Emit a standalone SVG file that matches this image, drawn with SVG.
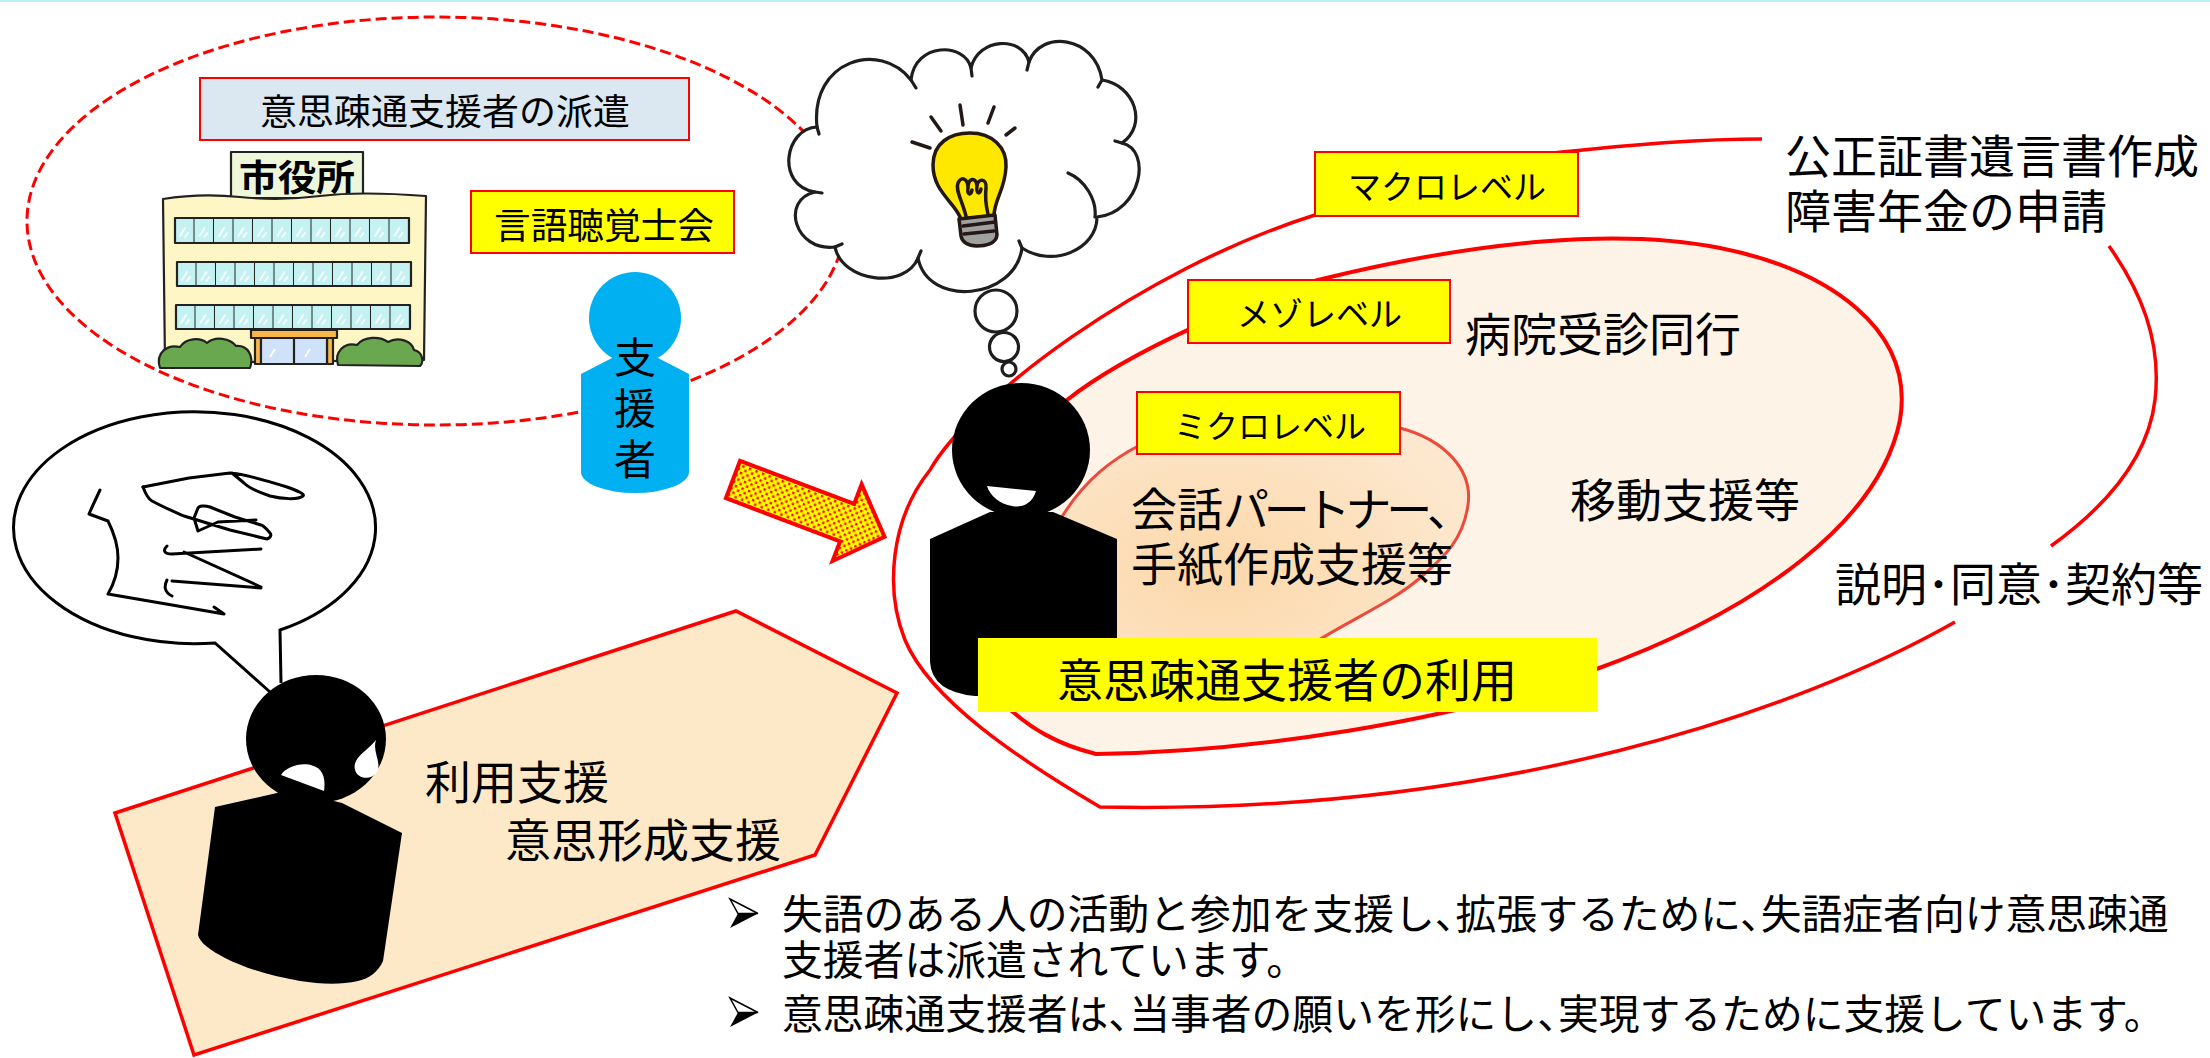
<svg xmlns="http://www.w3.org/2000/svg" width="2210" height="1058" viewBox="0 0 2210 1058">
  <defs>
    <style>
      text { font-family: "Noto Sans CJK JP", "Noto Sans", sans-serif; fill: #000; }
      .tight { font-family: "Liberation Sans", "Noto Sans CJK JP", sans-serif; }
      .t46 { font-size: 46px; }
      .notes { font-size: 40.8px; }
      .lvl { font-size: 32px; }
      .ybox { fill: #ffff00; stroke: #ff0000; stroke-width: 2; }
      .ink { stroke: #1e1e1e; stroke-width: 3.2; stroke-linecap: round; stroke-linejoin: round; }
      .bulbink { stroke: #231815; stroke-width: 3.5; stroke-linecap: round; stroke-linejoin: round; }
      .sketch { stroke: #222; stroke-width: 2.2; stroke-linejoin: round; }
      .redline { fill: none; stroke: #ff0000; stroke-width: 3.5; }
    </style>
    <pattern id="dots" width="7" height="7" patternUnits="userSpaceOnUse">
      <rect width="7" height="7" fill="#ffff00"/>
      <rect x="0.5" y="0.5" width="2.4" height="2.4" fill="#ff0000"/>
      <rect x="4" y="4" width="2.4" height="2.4" fill="#ff0000"/>
    </pattern>
    <pattern id="pane" width="19.5" height="26" patternUnits="userSpaceOnUse">
      <rect width="19.5" height="26" fill="#c4f1f1"/>
      <path d="M19.5,0V26" stroke="#222" stroke-width="2"/>
      <path d="M5,18L10,10 M10,19L13,15" stroke="#fff" stroke-width="1.8" stroke-linecap="round"/>
    </pattern>
    <radialGradient id="microFill" cx="0.4" cy="0.55" r="0.65">
      <stop offset="0" stop-color="#fcd8aa"/>
      <stop offset="1" stop-color="#fde8cf"/>
    </radialGradient>
  </defs>

  <rect width="2210" height="1058" fill="#ffffff"/>
  <rect x="0" y="0" width="2210" height="2" fill="#bdeefc"/>

  <!-- dispatch area (dashed) -->
  <g id="dispatch-area">
    <ellipse cx="436" cy="221" rx="409" ry="204" fill="none" stroke="#ff0000" stroke-width="3" stroke-dasharray="11 5"/>
  </g>

  <g id="dispatch-label">
    <rect x="200" y="78" width="489" height="62" fill="#dbe8f1" stroke="#ff0000" stroke-width="2"/>
    <text x="260" y="125" font-size="36" textLength="370" lengthAdjust="spacingAndGlyphs">意思疎通支援者の派遣</text>
  </g>

  <!-- city hall illustration -->
  <g id="city-hall">
    <rect x="231" y="152" width="132" height="46" fill="#eef7d9" class="sketch"/>
    <text x="239" y="191" font-size="36" font-weight="700" textLength="116" lengthAdjust="spacingAndGlyphs">市役所</text>
    <path d="M163,199 Q200,193 240,197 T320,196 T426,196 L424,360 L165,363 Z" fill="#fef6c5" class="sketch"/>
    <g transform="translate(175,218)"><rect width="234" height="25" fill="url(#pane)" class="sketch"/></g>
    <g transform="translate(177,262)"><rect width="234" height="24" fill="url(#pane)" class="sketch"/></g>
    <g transform="translate(176,305)"><rect width="234" height="24" fill="url(#pane)" class="sketch"/></g>
    <rect x="255" y="337" width="6" height="27" fill="#f9b64a" class="sketch"/>
    <rect x="327" y="337" width="6" height="27" fill="#f9b64a" class="sketch"/>
    <rect x="261" y="338" width="66" height="26" fill="#d0e2fa" class="sketch"/>
    <path d="M294,338V364" fill="none" class="sketch"/>
    <path d="M270,357L275,349 M305,357L310,349" stroke="#fff" stroke-width="1.8"/>
    <rect x="251" y="330" width="86" height="8" fill="#f9b64a" class="sketch"/>
    <path d="M160,368 C155,352 168,344 180,347 C186,338 200,337 207,343 C215,336 230,338 236,346 C248,345 254,356 250,368 Z" fill="#6aa84f" class="sketch"/>
    <path d="M338,365 C334,352 344,342 357,345 C364,336 380,336 388,342 C398,336 412,341 414,350 C423,352 424,362 420,366 Z" fill="#6aa84f" class="sketch"/>
  </g>

  <g id="st-association">
    <rect x="471" y="191" width="263" height="62" class="ybox"/>
    <text x="494" y="239" font-size="36" textLength="220" lengthAdjust="spacingAndGlyphs">言語聴覚士会</text>
  </g>

  <!-- supporter figure -->
  <g id="supporter">
    <circle cx="635" cy="318" r="46" fill="#00b0f0"/>
    <path d="M612,358 L581,374 L581,472 A54,21 0 0 0 689,472 L689,374 L658,358 Z" fill="#00b0f0"/>
    <text x="635" y="336" font-size="42" writing-mode="vertical-rl" letter-spacing="9">支援者</text>
  </g>

  <!-- thought cloud with light bulb -->
  <g id="thought">
    <path d="M817,127 C810,60 880,40 911,80 C915,42 965,42 971,68 C978,38 1022,35 1029,62 C1040,30 1095,35 1102,80 C1135,85 1148,125 1122,143 C1152,150 1142,212 1097,217 C1097,250 1052,268 1022,248 C1015,300 928,308 918,258 C905,290 842,282 835,247 C795,252 780,200 815,192 C775,185 785,128 817,127 Z" fill="#fff" class="ink"/>
    <path d="M911,80 l5,8 M971,68 l1,8 M1029,62 l-2,8 M1102,80 l-4,7 M1122,143 l-7,-2 M1022,248 l-3,-7 M918,258 l3,-7 M835,247 l7,-3 M815,192 l7,1 M817,127 l2,7 M1068,173 C1085,180 1097,200 1095,217" fill="none" class="ink"/>
    <circle cx="996" cy="311" r="21" fill="#fff" class="ink"/>
    <circle cx="1004" cy="347" r="14.5" fill="#fff" class="ink"/>
    <circle cx="1009" cy="369" r="7" fill="#fff" class="ink"/>
    <path d="M912,142 L930,148 M931,117 L941,131 M960,105 L963,125 M994,107 L988,123 M1015,128 L1006,135" fill="none" class="bulbink"/>
    <path d="M961,219 C955,202 933,192 933,165 C933,143 950,133 970,133 C992,133 1007,147 1006,167 C1005,190 994,200 994,216 Z" fill="#ffe800" class="bulbink" stroke-width="3"/>
    <path d="M959,219 L995,215 L997,235 C996,244 985,246 977,246 C968,246 962,242 961,236 Z" fill="#a0a0a0" class="bulbink" stroke-width="3"/>
    <path d="M963,226 L995,222 M964,234 L994,231" fill="none" class="bulbink" stroke-width="2.5"/>
    <path d="M966,216 C962,200 955,190 958,183 C961,176 968,178 968,188 C968,178 976,176 977,186 C978,178 987,178 986,188 C985,197 986,206 988,214 M968,188 C967,195 971,196 972,190 M977,186 C976,194 980,195 981,189" fill="none" class="bulbink" stroke-width="2.5"/>
  </g>

  <!-- support levels -->
  <g id="levels">
    <path id="macro-upper" d="M1762,139 C1700,139 1640,144 1562,152 C1480,160 1390,182 1315,215 C1140,270 970,400 930,470 C890,520 885,590 905,640 C930,700 1020,760 1100,807 C1500,815 1800,710 1955,622" class="redline"/>
    <path id="macro-right" d="M2109,246 C2140,290 2162,340 2155,400 C2149,450 2115,500 2051,546" class="redline"/>
    <path id="meso" d="M1096,754 C1250,752 1450,722 1594,670 C1760,610 1880,520 1900,420 C1915,330 1830,270 1720,248 C1620,228 1480,240 1318,280 C1260,295 1130,350 1067,400 C990,470 950,620 1000,700 C1030,730 1060,745 1096,754 Z" fill="#fef3e7" stroke="#ff0000" stroke-width="4"/>
    <path id="micro" d="M1060,520 C1085,478 1115,458 1140,445 C1220,415 1320,408 1400,428 C1445,440 1473,470 1468,505 C1463,540 1445,556 1420,578 C1385,608 1335,625 1290,660 L1150,700 L1050,690 Z" fill="url(#microFill)" stroke="#ec4a3c" stroke-width="3"/>
  </g>

  <g id="macro-label">
    <rect x="1315" y="152" width="263" height="64" class="ybox"/>
    <text x="1348" y="199" font-size="33">マクロレベル</text>
  </g>
  <g id="meso-label">
    <rect x="1188" y="280" width="262" height="63" class="ybox"/>
    <text x="1237" y="326" font-size="33">メゾレベル</text>
  </g>
  <g id="micro-label">
    <rect x="1137" y="392" width="263" height="62" class="ybox"/>
    <text x="1174" y="438" class="lvl">ミクロレベル</text>
  </g>

  <!-- person using the service -->
  <g id="user-person">
    <ellipse cx="1021" cy="450" rx="69" ry="67" fill="#000"/>
    <path d="M990,512 L930,539 L930,662 Q932,692 975,696 L1117,696 L1117,539 L1053,512 Z" fill="#000"/>
    <path d="M987,486 L1036,491 C1032,505 1020,508 1012,506 C1000,504 990,496 987,486 Z" fill="#fff"/>
  </g>

  <g id="use-label">
    <rect x="978" y="638" width="619" height="74" fill="#ffff00"/>
    <text x="1057" y="697" class="t46">意思疎通支援者の利用</text>
  </g>

  <g id="level-examples">
    <text class="t46 tight"><tspan x="1131" y="526">会話</tspan><tspan letter-spacing="-5.2">パートナー</tspan><tspan>、</tspan><tspan x="1131" y="581">手紙作成支援等</tspan></text>
    <text x="1465" y="351" class="t46">病院受診同行</text>
    <text x="1570" y="517" class="t46">移動支援等</text>
    <text class="t46 tight"><tspan x="1785" y="173">公正証書遺言書作成</tspan><tspan x="1785" y="228">障害年金の申請</tspan></text>
    <text x="1835" y="601" class="t46">説明･同意･契約等</text>
  </g>

  <!-- transition arrow -->
  <g id="arrow" transform="translate(733,479.5) rotate(20.7)">
    <path d="M0,-20 H122 V-41 L162,0 L122,41 V20 H0 Z" fill="url(#dots)" stroke="#ff0000" stroke-width="4"/>
  </g>

  <!-- person before support -->
  <g id="support-area">
    <polygon points="115,813 736,611 897,693 815,855 194,1055" fill="#fde9c8" stroke="#ff0000" stroke-width="3.5"/>
    <text class="t46 tight"><tspan x="425" y="799">利用支援</tspan><tspan x="505" y="857">意思形成支援</tspan></text>
  </g>

  <g id="speech-bubble">
    <path d="M270,692 L215,643 A181,116 0 1 1 280,630 L281,683" fill="#fff" stroke="#000" stroke-width="3"/>
    <g fill="none" stroke="#000" stroke-width="3" stroke-linecap="round" stroke-linejoin="round">
      <path d="M100,490 L93,505 L89,514 L108,521 C114,533 118,545 118,558 C118,570 115,582 108,594 L172,605 L224,614 M214,607 L224,614"/>
      <path d="M143,487 L189,478 L230,473 C245,474 265,480 287,487 C298,491 305,494 303,496 C298,500 282,499 270,496 C258,492 248,487 244,483 L232,473"/>
      <path d="M143,487 C146,495 150,500 152,501 C165,508 175,512 184,516 L230,530 L267,539 C272,537 271,534 270,533 C266,528 262,525 261,525 L235,517 L210,507 C204,505 199,506 198,508 L194,518 L198,531 L218,522 L256,520"/>
      <path d="M167,546 C162,551 165,554 172,554 L261,549 M184,552 L261,587 M167,580 C164,586 164,592 172,596 M172,581 L261,588"/>
    </g>
  </g>

  <g id="worried-person">
    <ellipse cx="316" cy="739" rx="70" ry="64" fill="#000"/>
    <path d="M215,807 L290,790 L342,803 L402,833 L383,961 C378,972 370,978 358,981 C340,985 320,984 300,981 C270,976 245,968 225,958 C210,950 200,943 198,935 Z" fill="#000"/>
    <path d="M376,740 C372,752 382,762 377,772 C372,780 358,780 355,770 C352,758 366,752 376,740 Z" fill="#fff"/>
    <path d="M281,775 C288,764 310,760 320,770 C325,776 325,784 324,791 Z" fill="#fff"/>
  </g>

  <!-- summary notes -->
  <g id="notes">
    <g transform="translate(729,899)">
      <path d="M1,0 L29,14.5 L9,14.5 Z" fill="#fff" stroke="#000" stroke-width="1.5"/>
      <path d="M9,14.5 L29,14.5 L1,29 Z" fill="#000"/>
    </g>
    <g transform="translate(729,998)">
      <path d="M1,0 L29,14.5 L9,14.5 Z" fill="#fff" stroke="#000" stroke-width="1.5"/>
      <path d="M9,14.5 L29,14.5 L1,29 Z" fill="#000"/>
    </g>
    <text class="notes tight"><tspan x="782" y="929">失語のある人の活動と参加を支援し、</tspan><tspan dx="-20">拡張するために、</tspan><tspan dx="-20">失語症者向け意思疎通</tspan><tspan x="782" y="975">支援者は派遣されています。</tspan><tspan x="782" y="1029">意思疎通支援者は、</tspan><tspan dx="-20">当事者の願いを形にし、</tspan><tspan dx="-20">実現するために支援しています。</tspan></text>
  </g>
</svg>
